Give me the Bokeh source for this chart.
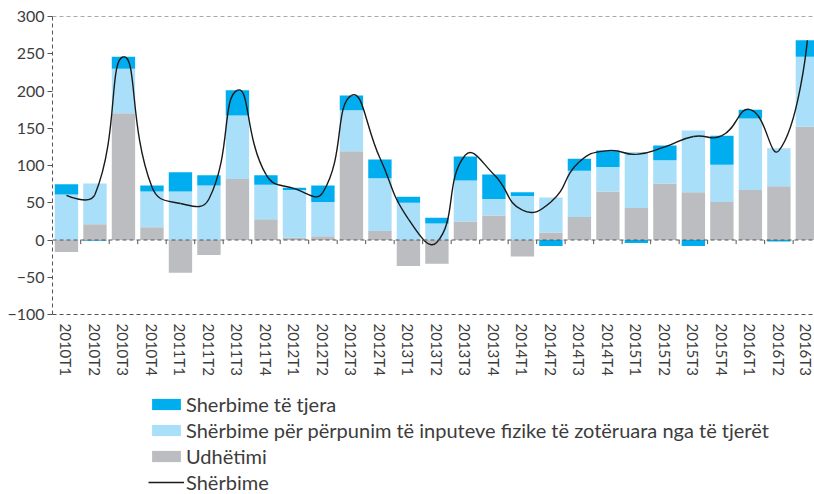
import math
from bokeh.plotting import figure
from bokeh.layouts import column
from bokeh.models import Range1d, FixedTicker, Span, Legend, LegendItem, ColumnDataSource
from bokeh.embed import file_html
from bokeh.resources import INLINE

categories = ["2010T1", "2010T2", "2010T3", "2010T4",
              "2011T1", "2011T2", "2011T3", "2011T4",
              "2012T1", "2012T2", "2012T3", "2012T4",
              "2013T1", "2013T2", "2013T3", "2013T4",
              "2014T1", "2014T2", "2014T3", "2014T4",
              "2015T1", "2015T2", "2015T3", "2015T4",
              "2016T1", "2016T2", "2016T3"]

udhetimi = [-16, 21, 170, 17, -44, -20, 82, 28, 3, 5, 119, 12, -35, -32, 25, 33,
            -22, 10, 31, 65, 43, 76, 64, 51, 67, 72, 152]
perpunim = [61, 55, 60, 48, 65, 73, 85, 46, 64, 46, 55, 71, 50, 22, 55, 22,
            59, 47, 62, 33, 75, 31, 83, 50, 96, 51, 94]
tjera = [14, -1, 16, 8, 26, 14, 34, 13, 3, 22, 20, 25, 8, 8, 32, 33,
         5, -8, 16, 22, -4, 20, -8, 39, 12, -2, 22]
sherbime = [60, 61, 246, 71, 49, 55, 201, 88, 69, 64, 194, 110, 28, -3, 114, 88,
            40, 51, 105, 120, 115, 125, 139, 140, 175, 120, 268]

y_ticks = [-100, -50, 0, 50, 100, 150, 200, 250, 300]

legend_labels = ["Sherbime të tjera",
                 "Shërbime për përpunim të inputeve fizike të zotëruara nga të tjerët",
                 "Udhëtimi",
                 "Shërbime"]

FONT = "Lato"
TXT = "#3c3c3c"
DASH_COL = "#555555"
C_GRAY = "#bcbdc0"
C_LIGHT = "#a9dff8"
C_DARK = "#00aeef"
C_LINE = "#1a1a1a"

FRAME_W = 762
FRAME_H = 298
X0, X1 = -0.49, 26.25
Y0, Y1 = -100, 300

n = len(categories)
xs = list(range(n))

# stacking (positives up, negatives down)
series = [udhetimi, perpunim, tjera]
bottoms = [[0] * n for _ in series]
tops = [[0] * n for _ in series]
for i in range(n):
    pos = 0
    neg = 0
    for k, s in enumerate(series):
        v = s[i]
        if v >= 0:
            bottoms[k][i] = pos
            tops[k][i] = pos + v
            pos += v
        else:
            bottoms[k][i] = neg
            tops[k][i] = neg + v
            neg += v

p = figure(width=814, height=380, frame_width=FRAME_W, frame_height=FRAME_H,
           output_backend="svg", toolbar_location=None,
           x_range=Range1d(X0, X1), y_range=Range1d(Y0, Y1),
           min_border_top=16, min_border_left=52, min_border_right=0, min_border_bottom=0)
p.outline_line_color = None
p.xgrid.visible = False
p.ygrid.visible = False
p.background_fill_color = "white"

bar_sources = []
colors = [C_GRAY, C_LIGHT, C_DARK]
for k in range(3):
    src = ColumnDataSource(dict(x=xs, bottom=bottoms[k], top=tops[k]))
    bar_sources.append(src)
    p.vbar(x="x", bottom="bottom", top="top", width=0.82, source=src,
           fill_color=colors[k], line_color=None)

# smoothed line: cubic bezier segments with control points scaled by
# neighbouring segment lengths measured on screen (Excel-like smoothing)
sx = FRAME_W / (X1 - X0)
sy = FRAME_H / (Y1 - Y0)
T = 0.5
out_c = []
in_c = []
for i in range(n):
    if i == 0 or i == n - 1:
        out_c.append((xs[i], sherbime[i]))
        in_c.append((xs[i], sherbime[i]))
        continue
    tx = xs[i + 1] - xs[i - 1]
    ty = sherbime[i + 1] - sherbime[i - 1]
    dp = math.hypot((xs[i] - xs[i - 1]) * sx, (sherbime[i] - sherbime[i - 1]) * sy)
    dn = math.hypot((xs[i + 1] - xs[i]) * sx, (sherbime[i + 1] - sherbime[i]) * sy)
    fa = T * dp / (dp + dn)
    fb = T * dn / (dp + dn)
    in_c.append((xs[i] - fa * tx, sherbime[i] - fa * ty))
    out_c.append((xs[i] + fb * tx, sherbime[i] + fb * ty))

bsrc = ColumnDataSource(dict(
    x0=xs[:-1], y0=sherbime[:-1], x1=xs[1:], y1=sherbime[1:],
    cx0=[c[0] for c in out_c[:-1]], cy0=[c[1] for c in out_c[:-1]],
    cx1=[c[0] for c in in_c[1:]], cy1=[c[1] for c in in_c[1:]]))
p.bezier(x0="x0", y0="y0", x1="x1", y1="y1", cx0="cx0", cy0="cy0", cx1="cx1", cy1="cy1",
         source=bsrc, line_color=C_LINE, line_width=1.4)

# dashed reference lines
p.add_layout(Span(location=0, dimension="width", line_color=DASH_COL, line_dash="4 3", line_width=1))
p.add_layout(Span(location=300, dimension="width", line_color=DASH_COL, line_dash="4 3", line_width=1))

# category boundary ticks on zero line
bx = [i + 0.5 for i in range(n - 1)]
p.segment(x0=bx, y0=[0] * len(bx), x1=bx, y1=[-5.5] * len(bx), line_color=DASH_COL, line_width=1)

# axes
yax = p.yaxis[0]
yax.ticker = FixedTicker(ticks=y_ticks)
yax.axis_line_color = DASH_COL
yax.axis_line_dash = "4 3"
yax.major_tick_line_color = DASH_COL
yax.major_tick_out = 5
yax.major_tick_in = 0
yax.minor_tick_line_color = None
yax.major_label_text_font = FONT
yax.major_label_text_font_size = "16px"
yax.major_label_text_color = TXT
yax.major_label_standoff = 3

xax = p.xaxis[0]
xax.ticker = FixedTicker(ticks=xs)
xax.major_label_overrides = {i: c for i, c in enumerate(categories)}
xax.major_label_orientation = -math.pi / 2
xax.axis_line_color = DASH_COL
xax.axis_line_dash = "4 3"
xax.major_tick_line_color = None
xax.minor_tick_line_color = None
xax.major_label_text_font = FONT
xax.major_label_text_font_size = "15px"
xax.major_label_text_color = TXT
xax.major_label_standoff = 3

# legend panel (separate figure below the chart; proxies are hidden renderers)
q = figure(width=814, height=114, frame_width=FRAME_W, frame_height=114,
           output_backend="svg", toolbar_location=None,
           x_range=Range1d(X0, X1), y_range=Range1d(Y0, Y1),
           min_border_top=0, min_border_left=52, min_border_right=0, min_border_bottom=0)
q.axis.visible = False
q.grid.visible = False
q.outline_line_color = None
proxies = []
for k in (2, 1, 0):
    r = q.vbar(x="x", top="top", bottom="bottom", width=0.82, source=bar_sources[k],
               fill_color=colors[k], line_color=None, visible=False)
    proxies.append(r)
lr_line = q.line(x=xs, y=sherbime, line_color=C_LINE, line_width=1.4, visible=False)
proxies.append(lr_line)

legend = Legend(items=[LegendItem(label=lab, renderers=[r]) for lab, r in zip(legend_labels, proxies)],
                orientation="vertical", location=(96, -2))
legend.padding = 0
legend.margin = 0
legend.border_line_color = None
legend.background_fill_alpha = 0
legend.inactive_fill_alpha = 0
legend.glyph_width = 36
legend.glyph_height = 14
legend.label_height = 20
legend.label_standoff = 2
legend.spacing = 2
legend.label_text_font = FONT
legend.label_text_font_size = "20px"
legend.label_text_color = TXT
q.add_layout(legend, "center")

layout = column(p, q, spacing=0)
open("out.html", "w").write(file_html(layout, INLINE))
